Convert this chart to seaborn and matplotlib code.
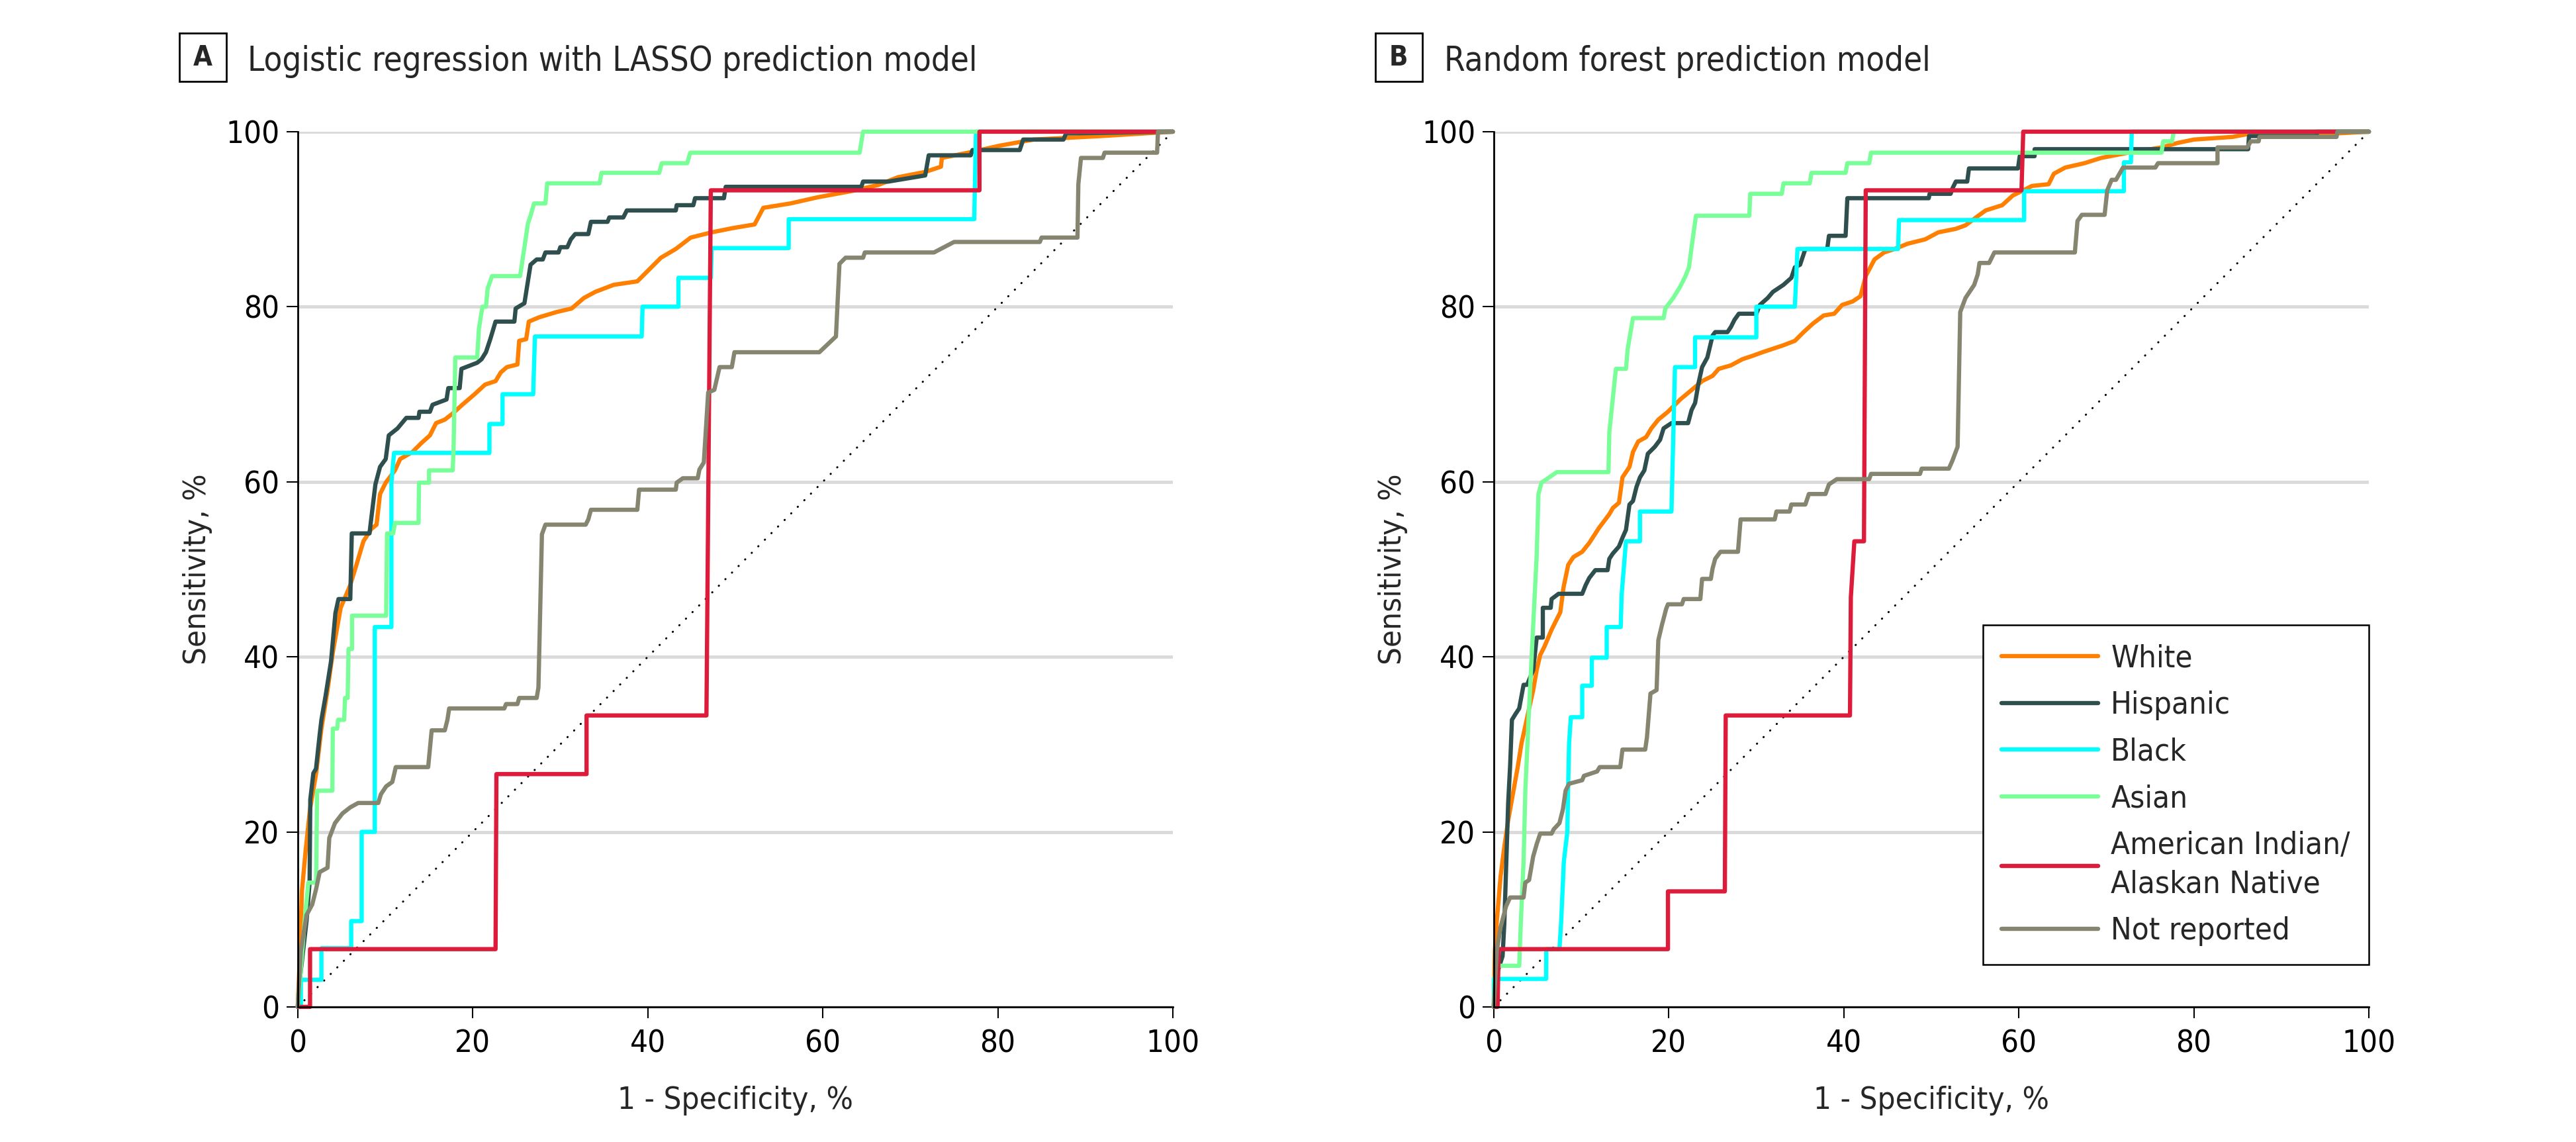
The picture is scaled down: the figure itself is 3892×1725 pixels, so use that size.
import pandas as pd
import numpy as np
import matplotlib
matplotlib.use('Agg')
import matplotlib.pyplot as plt
import matplotlib.patches as mpatches
import seaborn as sns

# ROC curve points (1 - specificity %, sensitivity %)
groups = ['White', 'Hispanic', 'Black', 'Asian', 'American Indian/\nAlaskan Native', 'Not reported']
colors = ['#FF7F00', '#2F4F4F', '#00FFFF', '#7AFF98', '#DC1C3A', '#858570']
chance_line = [0, 100]

# Panel A: logistic regression with LASSO
lasso_white_fpr = [0, 0.2, 0.35, 0.47, 0.9, 1.4, 2.1, 2.7, 3.4, 4.0, 4.9, 6.0, 6.7, 7.5, 8.4, 9.0, 9.4, 10.05, 11.1, 11.7,
                   13.1, 14.1, 15.1, 15.8, 16.8, 17.7, 18.8, 20.2, 21.4, 22.6, 23.2, 23.9, 25.1, 25.3, 26.1, 26.4, 27.6,
                   29.6, 31.3, 32.7, 34.0, 36.1, 38.8, 40.3, 41.5, 43.2, 44.9, 47.3, 49.8, 52.2, 53.2, 56.3, 59.4, 63.2,
                   66.3, 68.6, 71.7, 73.5, 73.6, 77.1, 80.2, 84.1, 91.8, 100]
lasso_white_tpr = [0, 5, 9, 13.2, 17.9, 22.6, 26.7, 31.8, 36.2, 40.5, 45.6, 48.2, 50.5, 53.2, 54.6, 55.1, 58.6, 59.9, 61.3, 62.6,
                   63.4, 64.4, 65.3, 66.7, 67.1, 67.8, 68.8, 70.0, 71.1, 71.5, 72.5, 73.1, 73.4, 76.1, 76.3, 78.3, 78.8,
                   79.4, 79.8, 81.0, 81.7, 82.5, 82.9, 84.4, 85.6, 86.6, 87.9, 88.5, 89.0, 89.4, 91.3, 91.8, 92.5, 93.2,
                   93.9, 94.8, 95.4, 96.0, 97.0, 97.7, 98.4, 99.1, 99.5, 100]

lasso_hisp_fpr = [0, 0.3, 1.0, 1.35, 1.43, 1.78, 2.08, 2.5, 2.7, 3.17, 3.8, 4.3, 4.65, 6.0, 6.17, 8.2, 8.3, 8.87, 9.4, 10.05,
                  10.4, 11.4, 11.9, 12.4, 13.8, 13.9, 15.1, 15.4, 17.0, 17.2, 18.5, 18.7, 20.5, 21.0, 21.5, 22.0, 22.6,
                  24.75, 24.9, 25.9, 26.6, 27.3, 28.0, 28.3, 29.8, 30.0, 30.8, 31.2, 31.7, 33.2, 33.5, 35.4, 35.6, 37.2,
                  37.6, 43.2, 43.3, 45.2, 45.4, 48.7, 48.9, 64.4, 64.6, 67.5, 71.7, 72.1, 76.9, 77.1, 82.5, 82.9, 87.5,
                  87.8, 100]
lasso_hisp_tpr = [0, 3.7, 9.8, 14.2, 23.7, 26.7, 27.2, 31.1, 32.8, 35.5, 39.5, 45.0, 46.6, 46.6, 54.1, 54.1, 55.0, 59.7, 61.7,
                  62.6, 65.3, 66.1, 66.7, 67.3, 67.3, 68.0, 68.0, 68.8, 69.4, 70.7, 70.7, 72.9, 73.6, 74.0, 74.8, 76.3,
                  78.3, 78.3, 79.8, 80.4, 84.8, 85.4, 85.4, 86.2, 86.2, 86.8, 86.8, 87.7, 88.3, 88.3, 89.7, 89.7, 90.2,
                  90.2, 91.0, 91.0, 91.6, 91.6, 92.4, 92.4, 93.7, 93.7, 94.3, 94.3, 95.0, 97.3, 97.3, 97.9, 97.9, 99.1,
                  99.1, 99.8, 100]

lasso_black_fpr = [0, 0.35, 0.35, 2.7, 2.7, 6.1, 6.1, 7.3, 7.3, 8.8, 8.8, 10.7, 10.7, 11.0, 21.9, 21.9, 23.4, 23.4, 26.9,
                   27.1, 39.3, 39.4, 43.5, 43.5, 47.2, 47.3, 56.1, 56.1, 77.3, 77.5, 100]
lasso_black_tpr = [0, 0, 3.1, 3.1, 6.7, 6.7, 9.8, 9.8, 20.0, 20.0, 43.4, 43.4, 59.9, 63.3, 63.3, 66.6, 66.6, 70.0, 70.0,
                   76.6, 76.6, 80.0, 80.0, 83.3, 83.3, 86.7, 86.7, 90.0, 90.0, 100, 100]

lasso_asian_fpr = [0, 0.4, 0.8, 1.2, 2.1, 2.2, 3.95, 4.0, 4.5, 4.6, 5.3, 5.4, 5.7, 5.8, 6.2, 6.2, 10.1, 10.2, 10.9, 11.1,
                   13.8, 13.85, 15.0, 15.0, 17.7, 17.8, 18.0, 20.5, 20.7, 21.1, 21.5, 21.7, 22.2, 25.4, 25.6, 26.3, 26.6,
                   27.0, 28.3, 28.5, 34.5, 34.7, 41.3, 41.6, 44.5, 44.85, 64.2, 64.6, 100]
lasso_asian_tpr = [0, 5, 10, 14.2, 14.2, 24.7, 24.7, 31.8, 31.8, 32.8, 32.8, 35.3, 35.3, 40.9, 40.9, 44.7, 44.7, 54.1, 54.1,
                   55.3, 55.3, 59.9, 59.9, 61.3, 61.3, 63.6, 74.2, 74.2, 77.5, 80.0, 80.0, 82.1, 83.5, 83.5, 84.8, 89.5,
                   90.4, 91.8, 91.8, 94.1, 94.1, 95.3, 95.3, 96.4, 96.4, 97.6, 97.6, 100, 100]

lasso_aian_fpr = [0, 1.4, 1.4, 22.6, 22.7, 33.0, 33.0, 46.7, 47.2, 77.9, 77.9, 100]
lasso_aian_tpr = [0, 0, 6.6, 6.6, 26.6, 26.6, 33.3, 33.3, 93.3, 93.3, 100, 100]

lasso_nr_fpr = [0, 0.35, 1.0, 1.65, 2.1, 2.5, 3.4, 3.6, 4.25, 5.1, 6.0, 6.9, 9.2, 9.5, 10.1, 10.8, 11.2, 14.9, 15.3, 16.8,
                17.1, 17.3, 23.6, 23.8, 25.1, 25.3, 27.3, 27.5, 27.9, 28.3, 32.9, 33.2, 33.5, 38.8, 39.0, 43.2, 43.3,
                44.0, 45.7, 45.9, 46.4, 46.9, 47.6, 48.2, 49.6, 49.9, 59.6, 61.5, 61.9, 62.6, 64.6, 64.8, 72.7, 75.0,
                84.8, 85.0, 89.1, 89.2, 89.5, 92.0, 92.2, 98.2, 98.3, 100]
lasso_nr_tpr = [0, 6.4, 10.5, 11.7, 13.5, 15.4, 15.9, 19.3, 21.0, 22.1, 22.8, 23.3, 23.3, 24.3, 25.2, 25.7, 27.4, 27.4, 31.6,
                31.6, 32.8, 34.1, 34.1, 34.6, 34.6, 35.3, 35.3, 36.5, 54.0, 55.1, 55.1, 55.7, 56.8, 56.8, 59.1, 59.1,
                59.9, 60.4, 60.4, 61.4, 62.2, 70.2, 70.5, 73.1, 73.1, 74.8, 74.8, 76.6, 84.9, 85.6, 85.6, 86.2, 86.2,
                87.4, 87.4, 87.9, 87.9, 94.0, 97.0, 97.0, 97.6, 97.6, 100, 100]

# Panel B: random forest
rf_white_fpr = [0, 0.12, 0.34, 0.77, 1.2, 1.64, 2.3, 2.73, 3.16, 3.6, 4.03, 4.5, 4.9, 5.3, 5.8, 6.6, 7.6, 7.96, 8.5, 9.1,
                10.1, 10.9, 12.0, 13.2, 13.6, 14.3, 14.7, 15.5, 15.9, 16.5, 17.4, 18.0, 18.8, 19.9, 21.3, 22.5, 23.8,
                25.0, 25.7, 27.1, 28.4, 29.6, 30.7, 31.9, 33.1, 34.4, 35.4, 36.5, 37.7, 38.9, 39.8, 41.0, 41.9, 42.5,
                43.5, 44.6, 45.8, 47.3, 49.3, 50.8, 52.8, 53.9, 55.1, 56.2, 58.1, 59.3, 60.3, 61.5, 63.4, 64.0, 65.3,
                67.5, 69.4, 72.5, 76.3, 78.1, 80.0, 84.4, 86.0, 96.3, 100]
rf_white_tpr = [0, 6.4, 9.8, 14.9, 18.3, 21.3, 25.0, 27.4, 30.1, 32.1, 34.1, 36.2, 38.5, 40.2, 41.2, 43.1, 45.1, 47.9, 50.5,
                51.4, 52.0, 53.0, 54.7, 56.3, 57.0, 57.6, 60.5, 61.7, 63.4, 64.6, 65.1, 66.1, 67.1, 68.0, 69.4, 70.4,
                71.5, 72.1, 72.9, 73.3, 74.0, 74.4, 74.8, 75.2, 75.6, 76.1, 77.1, 78.1, 79.0, 79.2, 80.2, 80.6, 81.2,
                83.5, 85.4, 86.2, 86.6, 87.2, 87.7, 88.5, 88.9, 89.3, 90.2, 91.0, 91.6, 92.7, 93.2, 93.8, 94.0, 95.2,
                95.9, 96.4, 97.0, 97.6, 98.2, 98.7, 99.1, 99.4, 99.7, 99.8, 100]

rf_hisp_fpr = [0, 0.12, 1.0, 1.2, 1.64, 1.86, 2.07, 2.5, 2.9, 3.4, 3.8, 4.5, 4.9, 5.6, 5.6, 6.5, 6.6, 7.4, 10.1, 10.5, 10.9,
               11.6, 13.0, 13.2, 13.6, 14.3, 14.7, 15.1, 15.5, 15.9, 16.3, 16.7, 17.2, 17.6, 18.4, 19.0, 19.4, 20.3,
               22.2, 22.6, 23.0, 23.4, 23.8, 24.4, 25.0, 25.3, 26.7, 27.1, 27.5, 28.0, 30.0, 30.4, 31.3, 31.9, 33.1,
               34.0, 34.4, 35.0, 35.6, 38.1, 38.3, 40.2, 40.4, 49.7, 49.8, 52.2, 52.4, 52.8, 54.1, 54.3, 59.9, 60.1,
               61.8, 61.8, 86.2, 86.3, 94.0, 94.1, 100]
rf_hisp_tpr = [0, 3.05, 5.8, 9.5, 23.3, 27.5, 32.8, 33.5, 34.1, 36.8, 36.8, 38.5, 42.2, 42.2, 45.6, 45.6, 46.6, 47.2, 47.2,
               48.2, 49.0, 49.9, 49.9, 51.2, 51.8, 52.6, 53.6, 54.5, 57.4, 57.8, 59.4, 60.5, 61.3, 63.2, 64.0, 64.8,
               66.1, 66.7, 66.7, 68.2, 69.0, 71.3, 73.1, 74.2, 76.7, 77.1, 77.1, 77.7, 78.5, 79.2, 79.2, 80.2, 81.0,
               81.7, 82.5, 83.3, 84.5, 84.8, 86.6, 86.6, 88.1, 88.1, 92.4, 92.4, 92.9, 92.9, 93.5, 94.3, 94.3, 95.8,
               95.8, 97.2, 97.2, 98.0, 98.0, 99.5, 99.5, 100, 100]

rf_black_fpr = [0, 0, 5.98, 6.0, 7.5, 7.7, 8.0, 8.4, 8.5, 8.6, 8.8, 10.1, 10.1, 11.2, 11.2, 12.9, 12.9, 14.5, 14.6, 15.1,
                16.7, 16.7, 20.3, 20.7, 23.0, 23.0, 30.0, 30.0, 34.4, 34.7, 46.2, 46.3, 60.6, 60.6, 72.0, 72.0, 72.8,
                72.9, 100]
rf_black_tpr = [0, 3.2, 3.2, 6.6, 6.6, 9.8, 16.6, 20.0, 25.4, 30.1, 33.1, 33.1, 36.7, 36.7, 39.9, 39.9, 43.4, 43.4, 47.0,
                53.2, 53.2, 56.6, 56.6, 73.1, 73.1, 76.5, 76.5, 80.0, 80.0, 86.6, 86.6, 89.9, 89.9, 93.2, 93.2, 96.5,
                96.5, 100, 100]

rf_asian_fpr = [0, 0.2, 2.9, 3.1, 3.4, 3.6, 4.0, 4.5, 4.9, 5.1, 5.45, 7.2, 13.1, 13.2, 13.95, 15.1, 15.3, 15.9, 19.4, 19.6,
                20.5, 21.3, 21.9, 22.3, 22.6, 23.1, 29.2, 29.3, 32.9, 33.1, 36.1, 36.3, 40.2, 40.4, 42.9, 43.1, 76.3,
                76.5, 77.5, 77.7, 100]
rf_asian_tpr = [0, 4.7, 4.7, 10, 16.6, 24.7, 33.5, 43.6, 51.6, 58.6, 59.9, 61.1, 61.1, 65.7, 72.9, 72.9, 75.2, 78.7, 78.7,
                79.8, 81.0, 82.3, 83.5, 84.5, 86.8, 90.4, 90.4, 92.9, 92.9, 94.1, 94.1, 95.3, 95.3, 96.4, 96.4, 97.6,
                97.6, 98.9, 98.9, 100, 100]

rf_aian_fpr = [0, 0.43, 0.55, 19.9, 19.9, 26.4, 26.5, 40.7, 40.8, 41.2, 42.3, 42.5, 60.3, 60.5, 100]
rf_aian_tpr = [0, 0, 6.6, 6.6, 13.2, 13.2, 33.3, 33.3, 46.8, 53.2, 53.2, 93.3, 93.3, 100, 100]

rf_nr_fpr = [0, 0.34, 0.77, 1.4, 1.86, 3.4, 3.6, 4.03, 4.5, 4.9, 5.3, 6.6, 6.85, 7.5, 7.9, 8.2, 8.6, 10.1, 10.3, 11.8,
             12.1, 14.45, 14.7, 17.3, 17.5, 17.9, 18.6, 18.8, 19.2, 19.7, 19.9, 21.5, 21.7, 23.6, 23.8, 24.8, 25.0,
             25.3, 25.9, 27.9, 28.2, 32.1, 32.3, 33.8, 34.0, 35.6, 36.0, 37.9, 38.3, 39.2, 42.9, 43.1, 48.7, 48.9,
             52.0, 52.4, 53.0, 53.3, 53.9, 54.9, 55.3, 55.5, 56.6, 57.2, 66.4, 66.7, 67.2, 69.8, 70.1, 70.6, 71.1,
             71.9, 75.6, 75.9, 82.7, 82.7, 86.1, 86.5, 87.4, 87.5, 96.3, 96.4, 100]
rf_nr_tpr = [0, 6.4, 9.1, 11.5, 12.5, 12.5, 14.2, 14.5, 17.2, 18.6, 19.8, 19.8, 20.3, 21.0, 22.6, 24.7, 25.5, 25.9, 26.4,
             26.9, 27.4, 27.4, 29.4, 29.4, 30.8, 35.8, 36.2, 41.9, 43.6, 45.5, 46.0, 46.0, 46.6, 46.6, 48.9, 48.9,
             50.1, 51.2, 52.0, 52.0, 55.7, 55.7, 56.6, 56.6, 57.4, 57.4, 58.6, 58.6, 59.7, 60.3, 60.3, 60.9, 60.9,
             61.5, 61.5, 62.4, 64.0, 79.4, 81.0, 82.5, 83.7, 85.0, 85.0, 86.2, 86.2, 89.8, 90.5, 90.5, 93.3, 94.5,
             94.5, 95.9, 95.9, 96.4, 96.4, 98.2, 98.2, 98.9, 98.9, 99.4, 99.4, 100, 100]

lasso_curves = [(lasso_white_fpr, lasso_white_tpr), (lasso_hisp_fpr, lasso_hisp_tpr),
                (lasso_black_fpr, lasso_black_tpr), (lasso_asian_fpr, lasso_asian_tpr),
                (lasso_aian_fpr, lasso_aian_tpr), (lasso_nr_fpr, lasso_nr_tpr)]
rf_curves = [(rf_white_fpr, rf_white_tpr), (rf_hisp_fpr, rf_hisp_tpr), (rf_black_fpr, rf_black_tpr),
             (rf_asian_fpr, rf_asian_tpr), (rf_aian_fpr, rf_aian_tpr), (rf_nr_fpr, rf_nr_tpr)]


def build_frame(curves):
    parts = []
    for g, (fpr, tpr) in zip(groups, curves):
        parts.append(pd.DataFrame({'fpr': fpr, 'tpr': tpr, 'group': g}))
    return pd.concat(parts, ignore_index=True)


sns.set_theme(style='white')
plt.rcParams['font.family'] = ['Liberation Sans Narrow', 'DejaVu Sans']
plt.rcParams['font.stretch'] = 'condensed'

fig = plt.figure(figsize=(38.92, 17.25), dpi=100)
palette = dict(zip(groups, colors))

panels = [
    ('A', 'Logistic regression with LASSO prediction model', lasso_curves, 0.1156, 0.0696, 0.0961, 0.0766),
    ('B', 'Random forest prediction model', rf_curves, 0.5799, 0.5339, 0.5606, 0.5408),
]

for letter, title, curves, left, box_x, title_x, ylab_x in panels:
    ax = fig.add_axes([left, 0.1183, 0.3397, 0.7664])
    df = build_frame(curves)
    ax.yaxis.grid(True, color='#dadada', lw=3.5)
    ax.set_axisbelow(True)
    ax.plot(chance_line, chance_line, color='black', lw=2.2, ls=(0, (0.1, 4.5)),
            dash_capstyle='round', zorder=1)
    sns.lineplot(data=df, x='fpr', y='tpr', hue='group', hue_order=groups, palette=palette,
                 sort=False, estimator=None, lw=4.6, ax=ax, legend=(letter == 'B'), clip_on=False)
    ax.set_xlim(0, 100)
    ax.set_ylim(0, 100)
    ax.set_xticks(np.arange(0, 101, 20))
    ax.set_yticks(np.arange(0, 101, 20))
    ax.set_xlabel('')
    ax.set_ylabel('')
    ax.tick_params(bottom=True, left=True, direction='out', length=12, width=1.5,
                   labelsize=34, colors='black')
    ax.tick_params(axis='x', pad=12)
    ax.tick_params(axis='y', pad=8)
    for s in ['top', 'right']:
        ax.spines[s].set_visible(False)
    for s in ['left', 'bottom']:
        ax.spines[s].set_color('black')
        ax.spines[s].set_linewidth(2)

    # panel letter box and title
    fig.add_artist(mpatches.Rectangle((box_x, 0.9287), 0.0182, 0.0423, transform=fig.transFigure,
                                      fill=False, ec='black', lw=2))
    fig.text(box_x + 0.0091, 0.9498, letter, ha='center', va='center', fontsize=30, fontweight='bold')
    fig.text(title_x, 0.938, title, ha='left', va='baseline', fontsize=36.5)

    fig.text(ylab_x, 0.5014, 'Sensitivity, %', rotation=90, ha='center', va='center', fontsize=34)
    fig.text(left + 0.3397 / 2, 0.029, '1 - Specificity, %', ha='center', va='baseline', fontsize=34)

    if letter == 'B':
        handles, labels = ax.get_legend_handles_labels()
        leg = ax.legend(handles, labels, loc='lower right', bbox_to_anchor=(1.0, 0.048),
                        borderaxespad=0, frameon=True, fancybox=False, framealpha=1,
                        edgecolor='black', fontsize=34, handlelength=3.1, handletextpad=0.4,
                        labelspacing=0.54, borderpad=0.6)
        leg.get_frame().set_linewidth(1.8)
        for h in leg.get_lines():
            h.set_linewidth(4.6)
        for t in leg.get_texts():
            t.set_linespacing(1.4)

fig.savefig('out.png', dpi=100)
